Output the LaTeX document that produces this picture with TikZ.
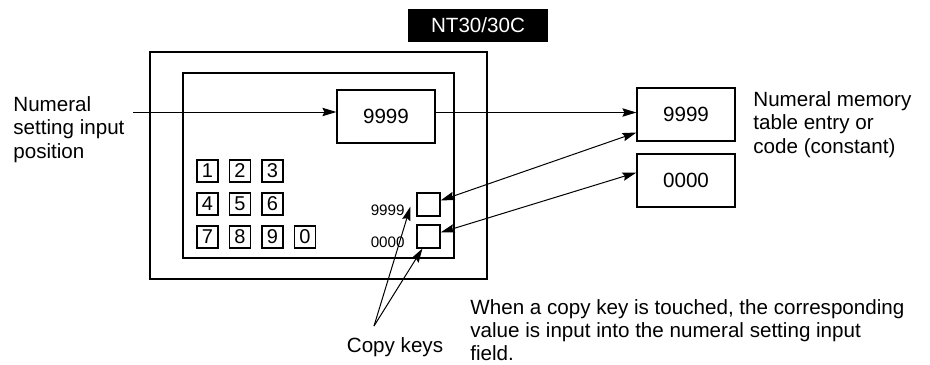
\documentclass[tikz,border=0pt]{standalone}
\usepackage{fontspec}
\setmainfont{Liberation Sans}
\usetikzlibrary{arrows.meta, positioning, calc}
\newcommand{\lblfont}{\fontsize{10.3}{11.6}\selectfont}
\newcommand{\notefont}{\fontsize{10.3}{11.3}\selectfont}
\newcommand{\keyfont}{\fontsize{10}{11}\selectfont}
\newcommand{\tinyfont}{\fontsize{7.6}{9}\selectfont}
\tikzset{
  box/.style={rectangle, draw=black, line width=0.6pt, inner sep=0pt},
  valbox/.style={box, minimum width=49pt, minimum height=26.5pt, font=\lblfont},
  keybox/.style={box, minimum width=10.5pt, minimum height=11pt, font=\keyfont},
  copybox/.style={box, minimum width=11.5pt, minimum height=11.5pt},
  lbl/.style={inner sep=0pt, align=left, font=\lblfont},
  arrow/.style={-{Stealth[length=7pt, width=4.2pt, inset=1pt]}, line width=0.5pt},
  dblarrow/.style={{Stealth[length=7pt, width=4.2pt, inset=1pt]}-{Stealth[length=7pt, width=4.2pt, inset=1pt]}, line width=0.5pt}
}

\begin{document}
\begin{tikzpicture}[x=0.5pt, y=-0.5pt]
  \useasboundingbox (0,0) rectangle (930,364);

  \node[fill=black, text=white, minimum width=70pt, minimum height=16.5pt, inner sep=0pt, font=\lblfont] (model) at (478,25.5) {NT30/30C};

  \node[box, line width=0.7pt, minimum width=168.5pt, minimum height=113.5pt] (frame) at (318.5,165.5) {};
  \node[box, minimum width=135.5pt, minimum height=92.5pt] (screen) at (318.5,165.5) {};

  \node[valbox] (disp) at (386,116.5) {9999};
  \node[valbox] (memA) at (686,114.5) {9999};
  \node[valbox] (memB) at (686,180.5) {0000};

  \foreach \k/\c/\r in {1/0/0, 2/1/0, 3/2/0, 4/0/1, 5/1/1, 6/2/1, 7/0/2, 8/1/2, 9/2/2, 0/3/2}
    \node[keybox] (key\k) at (207.5+32.5*\c, 171+33*\r) {\k};

  \node[copybox] (cpy1) at (428.5,204.5) {};
  \node[copybox] (cpy2) at (428.5,236.5) {};
  \node[inner sep=0pt, anchor=base east, font=\tinyfont] (valA) at (405,215) {9999};
  \node[inner sep=0pt, anchor=base east, font=\tinyfont] (valB) at (405,247) {0000};

  \node[lbl, anchor=base west] (numlbl) at (13,158) {Numeral\\setting input\\position};
  \node[lbl, anchor=base west] (memlbl) at (753,153) {Numeral memory\\table entry or\\code (constant)};
  \node[lbl, anchor=base] (copylbl) at (395,352) {Copy keys};
  \node[lbl, font=\notefont, anchor=base west] (note) at (470,360) {When a copy key is touched, the corresponding\\value is input into the numeral setting input\\field.};

  \coordinate (inpt) at (133,112);
  \coordinate (ck) at (374,326);

  \draw[arrow] (inpt) -- (inpt -| disp.west);
  \draw[arrow] ([yshift=2pt]disp.east) -- ([yshift=2pt]disp.east -| memA.west);
  \draw[dblarrow] ([yshift=-9pt]memA.west) -- ([yshift=2pt]cpy1.east);
  \draw[dblarrow] ([yshift=4pt]memB.west) -- ([yshift=2pt]cpy2.east);
  \draw[arrow] (ck) -- ([xshift=-3pt, yshift=5pt]cpy1.south west);
  \draw[arrow] (ck) -- ([xshift=3pt]cpy2.south west);
\end{tikzpicture}
\end{document}
